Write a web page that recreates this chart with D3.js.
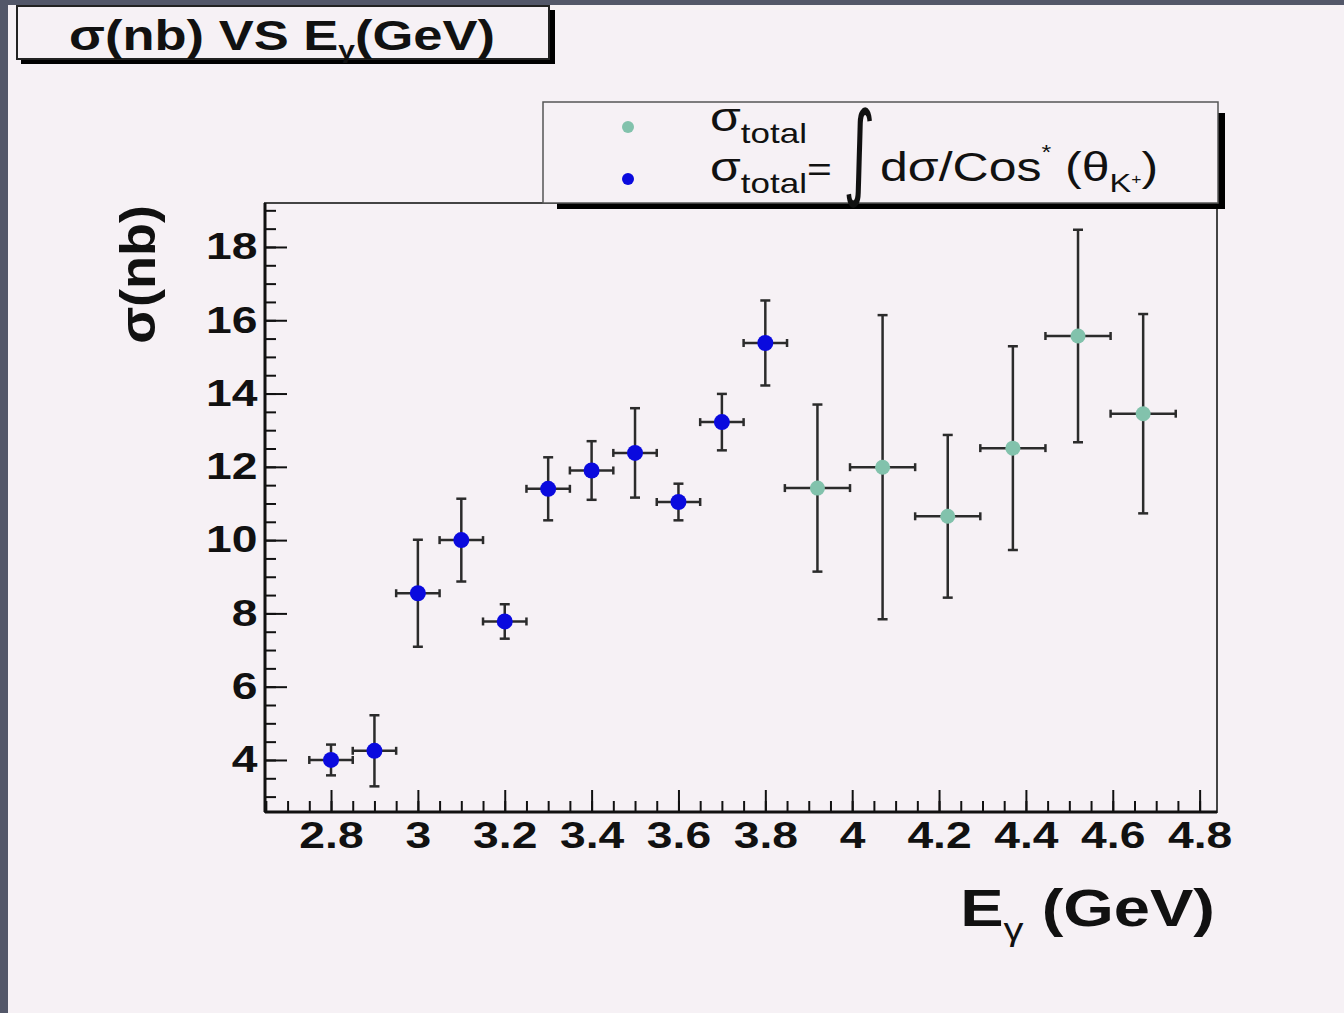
<!DOCTYPE html>
<html>
<head>
<meta charset="utf-8">
<script src="https://cdn.jsdelivr.net/npm/d3@7/dist/d3.min.js"></script>
<style>
  body { margin: 0; background: #f6f1f5; }
  text { font-family: "Liberation Sans", Arial, Helvetica, sans-serif; }
</style>
</head>
<body>
<div id="chart"></div>
<script>
// Data
var blueE      = [2.8, 2.9, 3.0, 3.1, 3.2, 3.3, 3.4, 3.5, 3.6, 3.7, 3.8];
var blueSigma  = [4.0, 4.25, 8.55, 10.0, 7.78, 11.4, 11.9, 12.38, 11.04, 13.22, 15.38];
var blueErr    = [0.42, 0.97, 1.46, 1.13, 0.47, 0.86, 0.8, 1.22, 0.5, 0.77, 1.16];
var blueEx     = 0.05;

var greenE     = [3.92, 4.07, 4.22, 4.37, 4.52, 4.67];
var greenSigma = [11.42, 11.99, 10.65, 12.51, 15.57, 13.45];
var greenErr   = [2.28, 4.15, 2.22, 2.78, 2.9, 2.72];
var greenEx    = 0.075;

var xTicks = [2.8, 3, 3.2, 3.4, 3.6, 3.8, 4, 4.2, 4.4, 4.6, 4.8];
var yTicks = [4, 6, 8, 10, 12, 14, 16, 18];

var W = 1344, H = 1013;
var bg = "#f6f1f5";
var stretch = 1.25; // the picture is stretched sideways
var frame = {left: 265, right: 1217, top: 203, bottom: 812};

var svg = d3.select("#chart").append("svg")
  .attr("width", W)
  .attr("height", H);

svg.append("rect").attr("width", W).attr("height", H).attr("fill", bg);
// dark window edges
svg.append("rect").attr("width", W).attr("height", 5).attr("fill", "#535769");
svg.append("rect").attr("width", 8).attr("height", H).attr("fill", "#535769");

// text helper with horizontal stretch
function stext(px, py, size, weight, anchor, sx) {
  return svg.append("text")
    .attr("transform", "translate(" + px + "," + py + ") scale(" + (sx || stretch) + ",1)")
    .attr("text-anchor", anchor || "start")
    .style("font-size", size + "px")
    .style("font-weight", weight || "normal")
    .attr("fill", "#111");
}

// Scales
var x = d3.scaleLinear().domain([2.648, 4.84]).range([frame.left, frame.right]);
var y = d3.scaleLinear().domain([2.58, 19.2]).range([frame.bottom, frame.top]);

var xMinor = d3.range(2.65, 4.84, 0.05).map(function(d) { return +d.toFixed(2); });
var yMinor = d3.range(3, 19.01, 0.5);

// frame (top/right thin)
svg.append("rect")
  .attr("x", frame.left).attr("y", frame.top)
  .attr("width", frame.right - frame.left).attr("height", frame.bottom - frame.top)
  .attr("fill", "none").attr("stroke", "#444").attr("stroke-width", 2);

// Axes: minor and major in separate groups
var gxm = svg.append("g").attr("transform", "translate(0," + frame.bottom + ")")
  .call(d3.axisBottom(x).tickValues(xMinor).tickSizeInner(-11).tickSizeOuter(0).tickFormat(""));
var gx = svg.append("g").attr("transform", "translate(0," + frame.bottom + ")")
  .call(d3.axisBottom(x).tickValues(xTicks).tickSizeInner(-22).tickSizeOuter(0).tickPadding(10)
    .tickFormat(d3.format("")));

var gym = svg.append("g").attr("transform", "translate(" + frame.left + ",0)")
  .call(d3.axisLeft(y).tickValues(yMinor).tickSizeInner(-11).tickSizeOuter(0).tickFormat(""));
var gy = svg.append("g").attr("transform", "translate(" + frame.left + ",0)")
  .call(d3.axisLeft(y).tickValues(yTicks).tickSizeInner(-22).tickSizeOuter(0).tickPadding(6));

[gxm, gx, gym, gy].forEach(function(g) {
  g.selectAll("path.domain").remove();
  g.selectAll("line").attr("stroke", "#111").attr("stroke-width", 2);
  g.selectAll("text")
    .attr("fill", "#111")
    .attr("transform", "scale(" + stretch + ",1)")
    .style("font-size", "37px")
    .style("font-weight", "bold");
});

// thick axis lines
svg.append("line")
  .attr("x1", frame.left).attr("x2", frame.right)
  .attr("y1", frame.bottom).attr("y2", frame.bottom)
  .attr("stroke", "#111").attr("stroke-width", 3);
svg.append("line")
  .attr("x1", frame.left).attr("x2", frame.left)
  .attr("y1", frame.top).attr("y2", frame.bottom)
  .attr("stroke", "#111").attr("stroke-width", 3);

// Error bars + markers
function drawSeries(E, S, Err, ex, color, r) {
  var g = svg.append("g");
  var pts = E.map(function(e, i) { return {e: e, s: S[i], err: Err[i]}; });
  var cap = 5;
  pts.forEach(function(d) {
    var cx = x(d.e), cy = y(d.s);
    var segs = [
      [x(d.e - ex), cy, x(d.e + ex), cy],
      [cx, y(d.s + d.err), cx, y(d.s - d.err)],
      [cx - cap, y(d.s + d.err), cx + cap, y(d.s + d.err)],
      [cx - cap, y(d.s - d.err), cx + cap, y(d.s - d.err)],
      [x(d.e - ex), cy - 4, x(d.e - ex), cy + 4],
      [x(d.e + ex), cy - 4, x(d.e + ex), cy + 4]
    ];
    segs.forEach(function(s) {
      g.append("line")
        .attr("x1", s[0]).attr("y1", s[1]).attr("x2", s[2]).attr("y2", s[3])
        .attr("stroke", "#2b2b2b").attr("stroke-width", 2.5);
    });
  });
  g.selectAll("circle").data(pts).enter()
    .append("circle")
    .attr("cx", function(d) { return x(d.e); })
    .attr("cy", function(d) { return y(d.s); })
    .attr("r", r)
    .attr("fill", color);
}
drawSeries(blueE, blueSigma, blueErr, blueEx, "#0a0ade", 8);
drawSeries(greenE, greenSigma, greenErr, greenEx, "#82c2ac", 7.5);

// Title box
svg.append("rect").attr("x", 21).attr("y", 58).attr("width", 534).attr("height", 6).attr("fill", "#000");
svg.append("rect").attr("x", 549).attr("y", 10).attr("width", 6).attr("height", 54).attr("fill", "#000");
svg.append("rect").attr("x", 17).attr("y", 6).attr("width", 532).attr("height", 53)
  .attr("fill", bg).attr("stroke", "#222").attr("stroke-width", 2);
var title = stext(282, 50, 42, "bold", "middle");
title.append("tspan").text("σ(nb) VS E");
title.append("tspan").attr("dy", 8).style("font-size", "24px").text("γ");
title.append("tspan").attr("dy", -8).text("(GeV)");

// Legend box
svg.append("rect").attr("x", 557).attr("y", 203).attr("width", 668).attr("height", 6).attr("fill", "#000");
svg.append("rect").attr("x", 1218).attr("y", 113).attr("width", 7).attr("height", 96).attr("fill", "#000");
svg.append("rect").attr("x", 543).attr("y", 102).attr("width", 675).attr("height", 101)
  .attr("fill", bg).attr("stroke", "#555").attr("stroke-width", 1.5);

svg.append("circle").attr("cx", 628).attr("cy", 127).attr("r", 6).attr("fill", "#82c2ac");
svg.append("circle").attr("cx", 628).attr("cy", 179).attr("r", 6).attr("fill", "#0a0ade");

var l1 = stext(710, 131, 40);
l1.append("tspan").text("σ");
l1.append("tspan").attr("dy", 12).style("font-size", "28px").text("total");

var l2 = stext(710, 181, 40);
l2.append("tspan").text("σ");
l2.append("tspan").attr("dy", 12).style("font-size", "28px").text("total");
l2.append("tspan").attr("dy", -12).style("font-size", "34px").text("=");

stext(843, 186, 104, "normal", "start", 0.6)
  .style("font-family", "DejaVu Sans")
  .text("∫");

var l3 = stext(880, 181, 40);
l3.append("tspan").text("dσ/Cos");
l3.append("tspan").attr("dy", -22).style("font-size", "20px").text("*");
l3.append("tspan").attr("dy", 22).text(" (θ");
l3.append("tspan").attr("dy", 11).style("font-size", "26px").text("K");
l3.append("tspan").attr("dy", -8).style("font-size", "14px").text("+");
l3.append("tspan").attr("dy", -3).text(")");

// Axis titles
var xt = stext(1215, 926, 52, "bold", "end");
xt.append("tspan").text("E");
xt.append("tspan").attr("dy", 14).style("font-size", "32px").style("font-weight", "normal").text("γ");
xt.append("tspan").attr("dy", -14).text(" (GeV)");

svg.append("text")
  .attr("transform", "translate(155,205) rotate(-90) scale(1.08,1)")
  .attr("text-anchor", "end")
  .style("font-size", "50px").style("font-weight", "bold").attr("fill", "#111")
  .text("σ(nb)");
</script>
</body>
</html>
